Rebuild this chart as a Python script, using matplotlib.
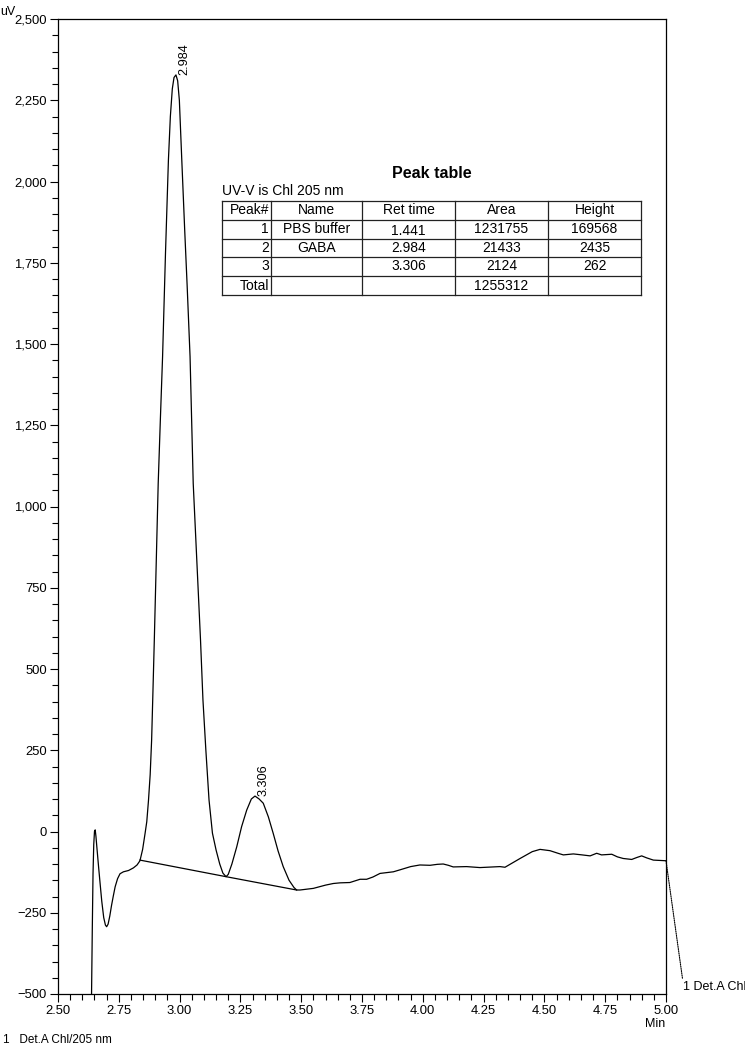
import matplotlib
matplotlib.use('Agg')
import matplotlib.pyplot as plt
from matplotlib.ticker import MultipleLocator, FuncFormatter
from matplotlib.lines import Line2D

plt.rcParams['font.family'] = ['Liberation Sans', 'DejaVu Sans']

# ---- chromatogram data (min, uV) ----
time = [2.637, 2.638, 2.641, 2.644, 2.647, 2.650, 2.653, 2.656, 2.660, 2.667,
        2.673, 2.680, 2.688, 2.695, 2.700, 2.706, 2.713, 2.720, 2.727, 2.735,
        2.745, 2.755, 2.769, 2.790, 2.810, 2.825, 2.837, 2.848, 2.858, 2.865,
        2.872, 2.879, 2.885, 2.890, 2.896, 2.904, 2.912, 2.921, 2.930, 2.942,
        2.954, 2.962, 2.970, 2.977, 2.985, 2.992, 2.999, 3.009, 3.021, 3.031,
        3.043, 3.056, 3.071, 3.086, 3.096, 3.108, 3.121, 3.135, 3.150, 3.165,
        3.178, 3.191, 3.200, 3.215, 3.235, 3.255, 3.276, 3.295, 3.310, 3.327,
        3.344, 3.365, 3.385, 3.405, 3.426, 3.450, 3.470, 3.481, 3.495, 3.550,
        3.600, 3.632, 3.660, 3.700, 3.742, 3.769, 3.795, 3.824, 3.879, 3.906,
        3.950, 3.988, 4.030, 4.060, 4.084, 4.105, 4.125, 4.180, 4.235, 4.317,
        4.338, 4.400, 4.450, 4.482, 4.523, 4.560, 4.578, 4.619, 4.655, 4.688,
        4.715, 4.735, 4.777, 4.800, 4.824, 4.859, 4.880, 4.900, 4.920, 4.948,
        5.000]
signal = [-560, -496, -300, -130, -40, 0, 5, -15, -50, -110,
          -159, -215, -265, -288, -293, -285, -260, -228, -200, -170,
          -145, -130, -124, -120, -112, -103, -90, -55, -6, 30,
          95, 175, 282, 420, 589, 830, 1071, 1270, 1461, 1780,
          2066, 2200, 2285, 2320, 2328, 2310, 2250, 2066, 1850, 1680,
          1461, 1071, 830, 589, 405, 250, 97, -5, -57, -100,
          -128, -139, -132, -100, -47, 15, 66, 100, 109, 100,
          87, 45, -6, -60, -108, -150, -172, -180, -180, -175,
          -165, -160, -158, -157, -147, -147, -140, -129, -124, -118,
          -108, -103, -104, -101, -100, -104, -109, -108, -111, -108,
          -110, -83, -62, -55, -59, -68, -72, -69, -72, -75,
          -67, -72, -70, -78, -83, -86, -80, -75, -81, -88,
          -90]

baseline_t = [2.837, 3.191, 3.481]
baseline_v = [-88, -139, -180]

peak_t = [2.984, 3.306]
peak_h = [2328, 109]
peak_labels = ['2.984', '3.306']

# ---- peak table ----
table_title = 'Peak table'
table_subtitle = 'UV-V is Chl 205 nm'
col_headers = ['Peak#', 'Name', 'Ret time', 'Area', 'Height']
col_peak = ['1', '2', '3', 'Total']
col_name = ['PBS buffer', 'GABA', '', '']
col_ret = ['1.441', '2.984', '3.306', '']
col_area = ['1231755', '21433', '2124', '1255312']
col_height = ['169568', '2435', '262', '']

W, H = 745, 1046
fig = plt.figure(figsize=(W / 100, H / 100), dpi=100)
ax = fig.add_axes([58 / W, 1 - 994 / H, 608 / W, 975 / H])

ax.plot(time, signal, color='black', lw=0.9)
ax.plot(baseline_t, baseline_v, color='black', lw=0.9)

ax.set_xlim(2.5, 5.0)
ax.set_ylim(-500, 2500)
ax.xaxis.set_major_locator(MultipleLocator(0.25))
ax.xaxis.set_minor_locator(MultipleLocator(0.05))
ax.yaxis.set_major_locator(MultipleLocator(250))
ax.yaxis.set_minor_locator(MultipleLocator(50))
ax.xaxis.set_major_formatter(FuncFormatter(lambda v, p: f"{v:.2f}"))
ax.yaxis.set_major_formatter(FuncFormatter(lambda v, p: f"{v:,.0f}".replace('-', '\u2212')))
ax.tick_params(which='major', direction='out', length=6, width=0.8, labelsize=9.4, pad=2)
ax.tick_params(which='minor', direction='out', length=4.5, width=0.8)
for s in ax.spines.values():
    s.set_linewidth(0.9)

for t, h, lab in zip(peak_t, peak_h, peak_labels):
    ax.annotate(lab, xy=(t, h), xytext=(6.5, 0), textcoords='offset points',
                rotation=90, ha='center', va='bottom', fontsize=9.2)

# axis texts
fig.text(0 / W, 1 - 12 / H, 'uV', fontsize=9, ha='left', va='center')
fig.text(655 / W, 1 - 1024 / H, 'Min', fontsize=9, ha='center', va='center')
fig.text(3 / W, 1 - 1040 / H, '1   Det.A Chl/205 nm', fontsize=8.5, ha='left', va='center')

# detector label with dotted leader
ax.annotate('1 Det.A Chl', xy=(time[-1], signal[-1]), xycoords='data',
            xytext=(683, H - 987), textcoords='figure pixels',
            fontsize=9, ha='left', va='center', annotation_clip=False,
            arrowprops=dict(arrowstyle='-', linestyle=(0, (1, 1)), lw=0.8,
                            shrinkA=0, shrinkB=0, relpos=(0, 0.9), color='black'))

# peak table drawing
def fx(x):
    return x / W

def fy(y):
    return 1 - y / H

fig.text(fx(432), fy(173), table_title, fontsize=11.5, fontweight='bold', ha='center', va='center')
fig.text(fx(222), fy(191), table_subtitle, fontsize=10, ha='left', va='center')

col_edges = [222, 271, 362, 455, 548, 641]
row_edges = [201, 219.5, 238.5, 257, 276, 295]
for x in col_edges:
    fig.add_artist(Line2D([fx(x), fx(x)], [fy(row_edges[0]), fy(row_edges[-1])], color='#222222', lw=0.9))
for y in row_edges:
    fig.add_artist(Line2D([fx(col_edges[0]), fx(col_edges[-1])], [fy(y), fy(y)], color='#222222', lw=0.9))

rows = [col_headers] + [list(r) for r in zip(col_peak, col_name, col_ret, col_area, col_height)]
for ri, row in enumerate(rows):
    yc = (row_edges[ri] + row_edges[ri + 1]) / 2
    for ci, txt in enumerate(row):
        if not txt:
            continue
        if ci == 0:
            x = col_edges[1] - 2
            ha = 'right'
        else:
            x = (col_edges[ci] + col_edges[ci + 1]) / 2
            ha = 'center'
        yy = yc + (2 if (ri == 1 and ci == 2) else 0)
        fig.text(fx(x), fy(yy), txt, fontsize=10, ha=ha, va='center')

fig.savefig('out.png', dpi=100)
